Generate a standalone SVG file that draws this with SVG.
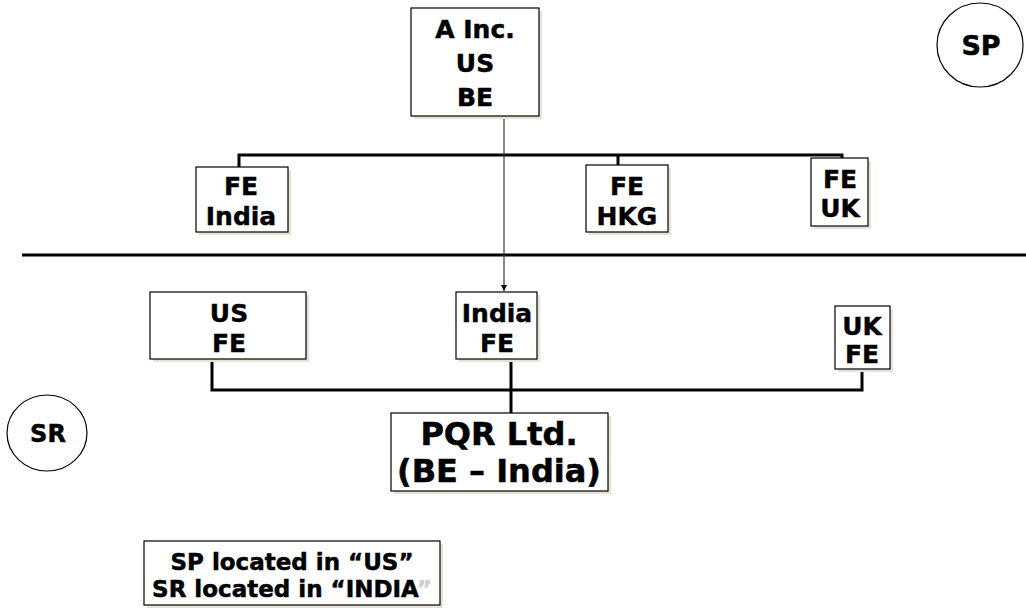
<svg xmlns="http://www.w3.org/2000/svg" width="1026" height="611" viewBox="0 0 1026 611">
<defs>
<style>
.box{fill:#fff;stroke:#000;stroke-width:1.2}
.sh{fill:#e6e2d6}
.t{font-family:"DejaVu Sans","Verdana",sans-serif;font-weight:bold;fill:#000;stroke:#000;stroke-width:0.5;text-anchor:middle}
.tc{font-family:"DejaVu Sans","Verdana",sans-serif;font-weight:bold;fill:#000;stroke:#000;stroke-width:0.4;text-anchor:middle}
.br{fill:none;stroke:#000;stroke-width:3}
</style>
<marker id="ah" viewBox="0 0 10 10" refX="10" refY="5" markerWidth="6" markerHeight="6" orient="auto" markerUnits="userSpaceOnUse">
<path d="M0,0 L10,5 L0,10 z" fill="#000"/>
</marker>
</defs>
<rect width="1026" height="611" fill="#fff"/>

<g id="connectors">
<path class="br" d="M239,167 V155 H842 V158"/>
<path class="br" d="M618,155 V165"/>
<line x1="22" y1="255" x2="1026" y2="255" stroke="#000" stroke-width="3"/>
<path class="br" d="M212,359 V390 H862 V369"/>
<path class="br" d="M511,359 V413"/>
<line x1="504" y1="116" x2="504" y2="291" stroke="#333" stroke-width="1.2" marker-end="url(#ah)"/>
</g>

<g id="a-inc">
<rect class="sh" x="414" y="11" width="128" height="108"/>
<rect class="box" x="411" y="8" width="128" height="108"/>
<text class="t" font-size="25" x="475" y="38">A Inc.</text>
<text class="t" font-size="25" x="475" y="72">US</text>
<text class="t" font-size="25" x="475" y="106">BE</text>
</g>

<g id="sp">
<ellipse cx="980" cy="45" rx="43" ry="42" fill="#fff" stroke="#000" stroke-width="1.2"/>
<text class="t" font-size="27" x="981" y="55">SP</text>
</g>

<g id="fe-india">
<rect class="sh" x="199" y="170" width="92" height="65"/>
<rect class="box" x="196" y="167" width="92" height="65"/>
<text class="tc" font-size="25" x="241" y="195">FE</text>
<text class="tc" font-size="25" x="241" y="225">India</text>
</g>

<g id="fe-hkg">
<rect class="sh" x="589" y="168" width="82" height="67"/>
<rect class="box" x="586" y="165" width="82" height="67"/>
<text class="tc" font-size="25" x="627" y="195">FE</text>
<text class="tc" font-size="25" x="627" y="225">HKG</text>
</g>

<g id="fe-uk">
<rect class="sh" x="814" y="161" width="57" height="68"/>
<rect class="box" x="811" y="158" width="57" height="68"/>
<text class="tc" font-size="25" x="840" y="188">FE</text>
<text class="tc" font-size="25" x="840" y="217">UK</text>
</g>

<g id="us-fe">
<rect class="sh" x="153" y="295" width="156" height="67"/>
<rect class="box" x="150" y="292" width="156" height="67"/>
<text class="tc" font-size="25" x="229" y="322">US</text>
<text class="tc" font-size="25" x="229" y="352">FE</text>
</g>

<g id="india-fe">
<rect class="sh" x="459" y="295" width="81" height="67"/>
<rect class="box" x="456" y="292" width="81" height="67"/>
<text class="tc" font-size="25" x="497" y="322">India</text>
<text class="tc" font-size="25" x="497" y="352">FE</text>
</g>

<g id="uk-fe">
<rect class="sh" x="838" y="309" width="55" height="63"/>
<rect class="box" x="835" y="306" width="55" height="63"/>
<text class="tc" font-size="25" x="862" y="335">UK</text>
<text class="tc" font-size="25" x="862" y="363">FE</text>
</g>

<g id="sr">
<ellipse cx="47" cy="433" rx="40" ry="38" fill="#fff" stroke="#000" stroke-width="1.2"/>
<text class="t" font-size="24" x="48" y="442">SR</text>
</g>

<g id="pqr">
<rect class="sh" x="394" y="416" width="217" height="78"/>
<rect class="box" x="391" y="413" width="217" height="78"/>
<text class="t" font-size="32" x="499" y="445">PQR Ltd.</text>
<text class="t" font-size="32" x="499" y="482">(BE – India)</text>
</g>

<g id="legend">
<rect class="sh" x="147" y="544" width="296" height="64"/>
<rect class="box" x="144" y="541" width="296" height="64"/>
<text class="t" font-size="23" x="292" y="570">SP located in “US”</text>
<text class="t" font-size="23" x="292" y="597">SR located in “INDIA<tspan fill="#d0d0d0" stroke="#d0d0d0">”</tspan></text>
</g>
</svg>
